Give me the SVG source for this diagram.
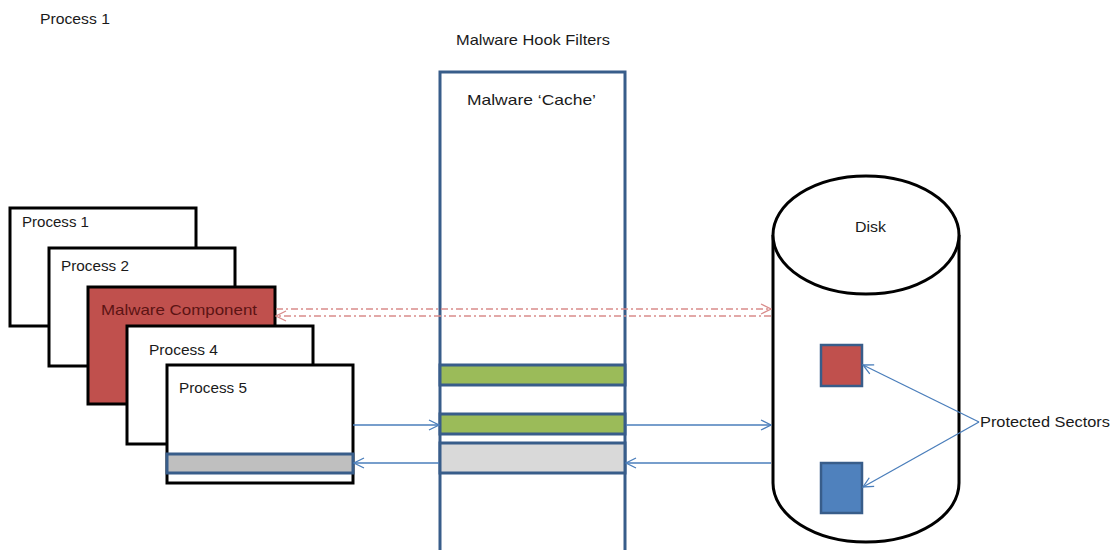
<svg xmlns="http://www.w3.org/2000/svg" width="1119" height="550" viewBox="0 0 1119 550">
<style>
text{font-family:"Liberation Sans",Arial,sans-serif;font-size:15px;fill:#1a1a1a}
.proc{fill:#fff;stroke:#000;stroke-width:3}
.mal{fill:#c0504d;stroke:#000;stroke-width:3}
.col{fill:#fff;stroke:#385d8a;stroke-width:3}
.green{fill:#9bbb59;stroke:#385d8a;stroke-width:3}
.grey{fill:#d9d9d9;stroke:#385d8a;stroke-width:3}
.greyp{fill:#bfbfbf;stroke:#385d8a;stroke-width:3}
.blue{stroke:#4a7ebb;stroke-width:1.3;fill:none}
.red{stroke:#d98c8b;stroke-width:1.3;fill:none;stroke-dasharray:7 3 2 3}
.disk{fill:#fff;stroke:#000;stroke-width:3}
</style>
<defs>
<marker id="ab" markerWidth="12" markerHeight="12" refX="11" refY="6" orient="auto" markerUnits="userSpaceOnUse">
<path d="M1,1 L11,6 L1,11" fill="none" stroke="#4a7ebb" stroke-width="1.3"/>
</marker>
<marker id="ar" markerWidth="12" markerHeight="12" refX="11" refY="6" orient="auto" markerUnits="userSpaceOnUse">
<path d="M1,1 L11,6 L1,11" fill="none" stroke="#d98c8b" stroke-width="1.3"/>
</marker>
</defs>
<text x="40" y="24" textLength="70" lengthAdjust="spacingAndGlyphs">Process 1</text>

<g id="process1"><rect class="proc" x="10" y="208" width="186" height="118"/><text x="22" y="227" textLength="67" lengthAdjust="spacingAndGlyphs">Process 1</text></g>
<g id="process2"><rect class="proc" x="49" y="248" width="186" height="118"/><text x="61" y="271" textLength="68" lengthAdjust="spacingAndGlyphs">Process 2</text></g>
<g id="malware"><rect class="mal" x="88" y="287" width="187" height="117"/><text x="101" y="315" textLength="156" lengthAdjust="spacingAndGlyphs" style="fill:#5c1414">Malware Component</text></g>
<g id="process4"><rect class="proc" x="127" y="326" width="186" height="118"/><text x="149" y="355" textLength="69" lengthAdjust="spacingAndGlyphs">Process 4</text></g>
<g id="process5"><rect class="proc" x="167" y="365" width="186" height="118"/><text x="179" y="393" textLength="68" lengthAdjust="spacingAndGlyphs">Process 5</text><rect class="greyp" x="167" y="454" width="186" height="19"/></g>

<g id="filters">
<text x="456" y="45" textLength="154" lengthAdjust="spacingAndGlyphs">Malware Hook Filters</text>
<rect class="col" x="440" y="72" width="185" height="482"/>
<text x="467" y="105" textLength="129" lengthAdjust="spacingAndGlyphs">Malware ‘Cache’</text>
<rect class="green" x="440" y="365" width="185" height="20"/>
<rect class="green" x="440" y="414" width="185" height="20"/>
<rect class="grey" x="440" y="443" width="185" height="30"/>
</g>

<g id="disk">
<path class="disk" d="M773,235 L773,483 A93,59 0 0 0 959,483 L959,235"/>
<ellipse class="disk" cx="866" cy="235" rx="93" ry="59"/>
<text x="855" y="232" textLength="31" lengthAdjust="spacingAndGlyphs">Disk</text>
<rect x="821" y="345" width="41" height="41" fill="#c0504d" stroke="#385d8a" stroke-width="2.5"/>
<rect x="821" y="463" width="41" height="50" fill="#4f81bd" stroke="#385d8a" stroke-width="2.5"/>
</g>

<g id="label">
<text x="980" y="427" textLength="130" lengthAdjust="spacingAndGlyphs">Protected Sectors</text>
</g>

<g id="connectors">
<line class="red" x1="276" y1="309" x2="771" y2="309" marker-end="url(#ar)"/>
<line class="red" x1="771" y1="316" x2="276" y2="316" marker-end="url(#ar)"/>
<line class="blue" x1="353" y1="425" x2="439" y2="425" marker-end="url(#ab)"/>
<line class="blue" x1="626" y1="425" x2="771" y2="425" marker-end="url(#ab)"/>
<line class="blue" x1="771" y1="463" x2="626" y2="463" marker-end="url(#ab)"/>
<line class="blue" x1="439" y1="463" x2="354" y2="463" marker-end="url(#ab)"/>
<line class="blue" x1="979" y1="422" x2="863" y2="365" marker-end="url(#ab)"/>
<line class="blue" x1="979" y1="422" x2="863" y2="487" marker-end="url(#ab)"/>
</g>
</svg>
